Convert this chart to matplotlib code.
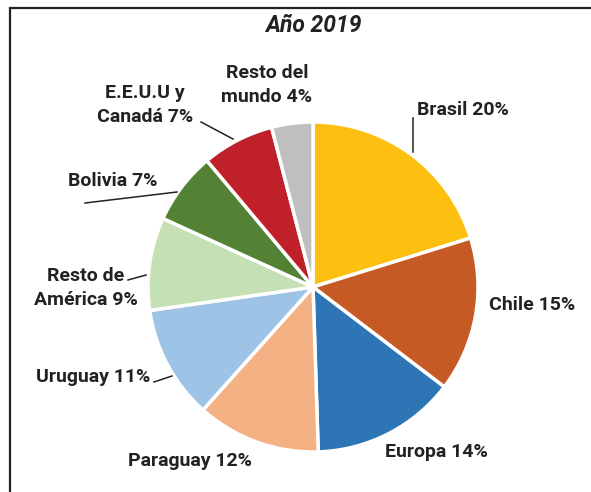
import matplotlib.pyplot as plt
from matplotlib.patches import Rectangle

# --- Data ---
categories = ["Brasil", "Chile", "Europa", "Paraguay", "Uruguay",
              "Resto de\nAmérica", "Bolivia", "E.E.U.U y\nCanadá", "Resto del\nmundo"]
shares = [20, 15, 14, 12, 11, 9, 7, 7, 4]
colors = ["#FDC010", "#C55A24", "#2E75B6", "#F4B183", "#9DC3E6",
          "#C5E0B4", "#548235", "#C0202A", "#BFBFBF"]
title = "Año 2019"

# --- Layout (pixel space, y measured from top) ---
W, H = 591, 492
# label anchor (x, y, ha)
label_pos = [(417, 110, "left"), (489, 305, "left"), (385, 452, "left"),
             (128, 461, "left"), (150, 377, "right"), (86, 288, "center"),
             (157, 181, "right"), (145, 105, "center"), (267, 85, "center")]
# leader lines (x0, y0, x1, y1)
leaders = [(413, 118, 413, 152), (154, 382, 172, 376), (128, 280, 146, 275),
           (85, 203, 177, 192), (201, 122, 233, 139)]

plt.rcParams['font.family'] = ['Roboto', 'DejaVu Sans']

fig = plt.figure(figsize=(W / 100, H / 100), dpi=100)
ax = fig.add_axes([0, 0, 1, 1])

# frame
ax.add_patch(Rectangle((10, -10), W, H - 8 + 10, fill=False, edgecolor='#222222', linewidth=1.6))

ax.pie(shares, colors=colors, startangle=90, counterclock=False,
       center=(313, H - 287), radius=165, frame=True,
       wedgeprops=dict(edgecolor='white', linewidth=2.5))
ax.set_xlim(0, W)
ax.set_ylim(0, H)
ax.set_aspect('equal')
ax.axis('off')

for cat, val, (x, y, ha) in zip(categories, shares, label_pos):
    ax.text(x, H - y, f"{cat} {val}%", ha=ha, va='center', fontsize=14,
            fontweight='bold', color='#222222', linespacing=1.4)

for x0, y0, x1, y1 in leaders:
    ax.plot([x0, x1], [H - y0, H - y1], color='#222222', linewidth=1.1)

ax.text(313, H - 25, title, ha='center', va='center', fontsize=16.5,
        fontweight='bold', fontstyle='italic', color='#222222')

fig.savefig("out.png", dpi=100)
